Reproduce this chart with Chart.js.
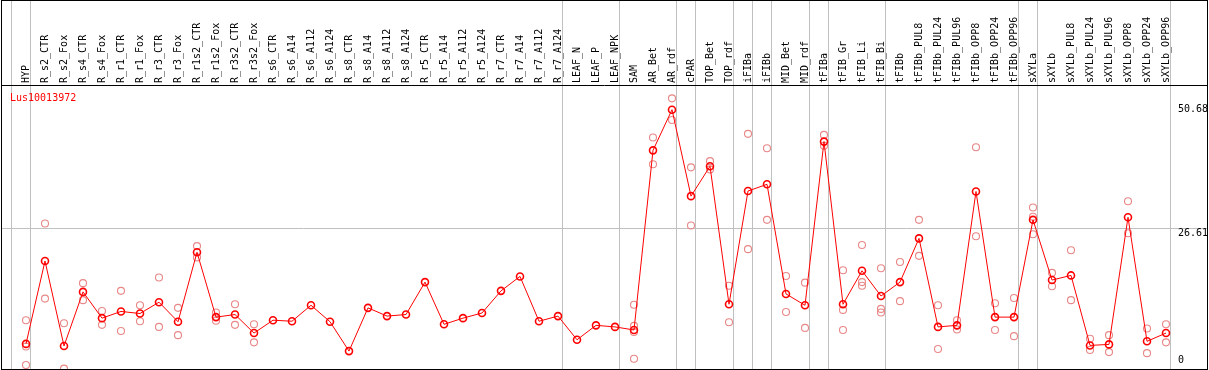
<!DOCTYPE html>
<html>
<head>
<meta charset="utf-8">
<title>Lus10013972</title>
<script src="https://cdn.jsdelivr.net/npm/chart.js@4.4.1/dist/chart.umd.min.js"></script>
<style>
  body { margin: 0; background: #fff; }
  canvas { display: block; }
</style>
</head>
<body>
<canvas id="myGeneChart" width="1209" height="370"></canvas>
<script>
var geneName = 'Lus10013972';

var samples = ['HYP', 'R_s2_CTR', 'R_s2_Fox', 'R_s4_CTR', 'R_s4_Fox', 'R_r1_CTR', 'R_r1_Fox',
  'R_r3_CTR', 'R_r3_Fox', 'R_r1s2_CTR', 'R_r1s2_Fox', 'R_r3s2_CTR', 'R_r3s2_Fox',
  'R_s6_CTR', 'R_s6_A14', 'R_s6_A112', 'R_s6_A124', 'R_s8_CTR', 'R_s8_A14', 'R_s8_A112', 'R_s8_A124',
  'R_r5_CTR', 'R_r5_A14', 'R_r5_A112', 'R_r5_A124', 'R_r7_CTR', 'R_r7_A14', 'R_r7_A112', 'R_r7_A124',
  'LEAF_N', 'LEAF_P', 'LEAF_NPK', 'SAM', 'AR_Bet', 'AR_rdf', 'cPAR', 'TOP_Bet', 'TOP_rdf',
  'iFIBa', 'iFIBb', 'MID_Bet', 'MID_rdf', 'tFIBa', 'tFIB_Gr', 'tFIB_Li', 'tFIB_Bi',
  'tFIBb', 'tFIBb_PUL8', 'tFIBb_PUL24', 'tFIBb_PUL96', 'tFIBb_OPP8', 'tFIBb_OPP24', 'tFIBb_OPP96',
  'sXYLa', 'sXYLb', 'sXYLb_PUL8', 'sXYLb_PUL24', 'sXYLb_PUL96', 'sXYLb_OPP8', 'sXYLb_OPP24', 'sXYLb_OPP96'];

// mean expression per sample
var means = [4.1, 20.2, 3.7, 14.2, 9.1, 10.4, 10.0, 12.2, 8.4, 21.9, 9.3, 9.8, 6.2,
  8.7, 8.5, 11.6, 8.4, 2.7, 11.1, 9.5, 9.8, 16.1, 7.9, 9.1, 10.1, 14.4, 17.2, 8.5, 9.5,
  4.9, 7.7, 7.4, 6.8, 41.7, 49.6, 32.8, 38.6, 11.8, 33.8, 35.1, 13.8, 11.6, 43.4, 11.8, 18.3, 13.4,
  16.1, 24.6, 7.4, 7.7, 33.7, 9.3, 9.3, 28.2, 16.5, 17.4, 3.8, 4.0, 28.7, 4.6, 6.2];

// single replicates (null = no replicate shown)
var rep1 = [8.7, 27.5, 8.1, 15.9, 10.5, 14.4, 11.6, 17.0, 11.1, 23.1, 10.2, 11.8, 7.9,
  null, null, null, null, null, null, null, null, null, null, null, null, null, null, null, null,
  null, null, null, 11.7, 44.2, 51.8, 38.4, 39.6, 15.4, 44.9, 42.1, 17.3, 16.0, 44.7, 18.4, 23.3, 18.8,
  20.0, 28.2, 11.6, 8.7, 42.3, 12.0, 13.0, 30.6, 17.9, 22.3, 5.1, 5.8, 31.8, 7.1, 7.9];
var rep2 = [3.6, 12.9, -0.7, 12.6, 7.8, 6.6, 8.5, 7.4, 5.8, 20.9, 8.6, 7.8, 4.4,
  null, null, null, null, null, null, null, null, null, null, null, null, null, null, null, null,
  null, null, null, 7.6, 39.0, 47.6, 27.1, 38.0, 8.3, 22.5, 28.2, 10.3, 7.2, 42.6, 10.7, 16.1, 10.9,
  12.4, 21.2, 3.1, 6.9, 25.0, 6.8, 5.6, 28.8, 15.3, 12.6, 2.9, 2.5, 25.6, 2.3, 4.4];
var rep3 = [0, null, null, null, null, null, null, null, null, null, null, null, null,
  null, null, null, null, null, null, null, null, null, null, null, null, null, null, null, null,
  null, null, null, 6.4, null, null, null, null, null, null, null, null, null, null, 6.8, 15.4, 10.2,
  null, null, null, null, null, null, null, 25.4, null, null, null, null, null, null, null];
var rep4 = [null, null, null, null, null, null, null, null, null, null, null, null, null,
  null, null, null, null, null, null, null, null, null, null, null, null, null, null, null, null,
  null, null, null, 1.2, null, null, null, null, null, null, null, null, null, null, null, null, null,
  null, null, null, null, null, null, null, null, null, null, null, null, null, null, null];

var yTicks = [0, 26.61, 50.68];

// index of the last sample of each group, a gray line goes after it
var groupEnds = [-1, 0, 28, 31, 34, 35, 37, 38, 39, 41, 42, 45, 52, 53, 60];

function toPoints(arr) {
  var pts = [];
  for (var i = 0; i < arr.length; i++) {
    if (arr[i] !== null) pts.push({x: i, y: arr[i]});
  }
  return pts;
}

var monoFont = 'DejaVu Sans Mono';
var repColor = 'rgb(232,135,135)';

// group lines, frame and gene name
var framePlugin = {
  id: 'framePlugin',
  beforeDatasetsDraw: function(chart) {
    var ctx = chart.ctx;
    var area = chart.chartArea;
    var xs = chart.scales.x;
    ctx.save();
    ctx.strokeStyle = '#c0c0c0';
    ctx.lineWidth = 1;
    groupEnds.forEach(function(i) {
      var px = Math.floor(xs.getPixelForValue(i + 0.25)) + 0.5;
      ctx.beginPath();
      ctx.moveTo(px, 0);
      ctx.lineTo(px, area.bottom);
      ctx.stroke();
    });
    ctx.restore();
  },
  afterDraw: function(chart) {
    var ctx = chart.ctx;
    var area = chart.chartArea;
    ctx.save();
    ctx.strokeStyle = '#000';
    ctx.lineWidth = 1;
    ctx.strokeRect(area.left - 0.5, 0.5, area.right - area.left, area.bottom);
    ctx.beginPath();
    ctx.moveTo(area.left - 1, area.top - 0.5);
    ctx.lineTo(area.right, area.top - 0.5);
    ctx.stroke();
    ctx.fillStyle = '#ff0000';
    ctx.font = '10px "' + monoFont + '"';
    ctx.textBaseline = 'alphabetic';
    ctx.fillText(geneName, area.left + 8, area.top + 15);
    ctx.restore();
  }
};

var ctx = document.getElementById('myGeneChart');

var geneChart = new Chart(ctx, {
  type: 'scatter',
  data: {
    datasets: [
      {
        label: 'mean',
        data: toPoints(means),
        showLine: true,
        borderColor: '#ff0000',
        borderWidth: 1,
        pointRadius: 3.5,
        pointBorderWidth: 1.6,
        pointBorderColor: '#ff0000',
        pointBackgroundColor: 'rgba(0,0,0,0)'
      },
      { label: 'rep1', data: toPoints(rep1) },
      { label: 'rep2', data: toPoints(rep2) },
      { label: 'rep3', data: toPoints(rep3) },
      { label: 'rep4', data: toPoints(rep4) }
    ]
  },
  options: {
    responsive: false,
    animation: false,
    layout: {
      autoPadding: false,
      padding: { left: 2, right: 1, top: 0, bottom: 1 }
    },
    elements: {
      point: {
        radius: 3.5,
        borderWidth: 1.1,
        borderColor: repColor,
        backgroundColor: 'rgba(0,0,0,0)'
      }
    },
    plugins: {
      legend: { display: false },
      tooltip: { enabled: false },
      title: { display: false }
    },
    scales: {
      x: {
        type: 'linear',
        position: 'top',
        min: -24 / 19,
        max: 60 + 42 / 19,
        afterBuildTicks: function(axis) {
          axis.ticks = samples.map(function(s, i) { return {value: i}; });
        },
        // fixed header height, no extra side padding for the rotated labels
        afterFit: function(axis) {
          axis.height = 86;
          axis.paddingLeft = 0;
          axis.paddingRight = 0;
        },
        grid: { display: false, drawTicks: false },
        border: { display: false },
        ticks: {
          autoSkip: false,
          minRotation: 90,
          maxRotation: 90,
          padding: 3,
          labelOffset: 12,
          color: '#000',
          font: { family: monoFont, size: 10 },
          callback: function(value) { return samples[value]; }
        }
      },
      y: {
        type: 'linear',
        position: 'right',
        min: -0.78,
        max: 54.2,
        afterBuildTicks: function(axis) {
          axis.ticks = yTicks.map(function(v) { return {value: v}; });
        },
        afterFit: function(axis) {
          axis.width = 0;
          axis.paddingTop = 0;
          axis.paddingBottom = 0;
        },
        grid: {
          drawTicks: false,
          color: function(c) { return c.index === 1 ? '#c0c0c0' : 'rgba(0,0,0,0)'; }
        },
        border: { display: false },
        ticks: {
          mirror: true,
          crossAlign: 'far',
          padding: 0,
          color: '#000',
          font: { family: monoFont, size: 10, lineHeight: 1 },
          // labels sit just under their value, the 0 label just above it
          callback: function(value) {
            var txt = String(value);
            return value === 0 ? [txt, ''] : ['', txt];
          }
        }
      }
    }
  },
  plugins: [framePlugin]
});
</script>
</body>
</html>
